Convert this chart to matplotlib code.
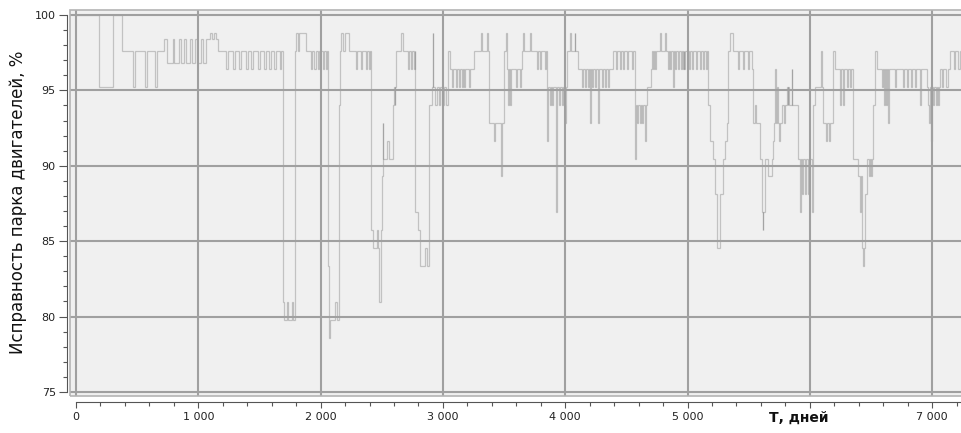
import numpy as np
import matplotlib
matplotlib.use("Agg")
import matplotlib.pyplot as plt
from matplotlib.collections import LineCollection
from matplotlib.patches import Rectangle
from matplotlib.ticker import MultipleLocator, FuncFormatter

# fleet serviceability, % : (day the level starts, level)
era1 = [
    (0, 100.00), (188, 95.24), (302, 100.00), (376, 97.62),
    (470, 95.24), (482, 97.62), (566, 95.24), (578, 97.62), (648, 95.24), (660, 97.62),
    (720, 98.41), (748, 96.83), (790, 98.41), (805, 96.83), (840, 98.41), (855, 96.83),
    (885, 98.41), (900, 96.83), (930, 98.41), (945, 96.83), (975, 98.41), (990, 96.83),
    (1020, 98.41), (1035, 96.83), (1060, 98.41),
    (1096, 98.81), (1110, 98.41), (1125, 98.81), (1145, 98.41), (1165, 97.62),
    (1227, 96.43), (1241, 97.62), (1284, 96.43), (1298, 97.62), (1333, 96.43), (1347, 97.62),
    (1390, 96.43), (1404, 97.62), (1431, 96.43), (1445, 97.62), (1488, 96.43), (1502, 97.62),
    (1537, 96.43), (1551, 97.62), (1578, 96.43), (1592, 97.62), (1619, 96.43), (1633, 97.62),
    (1665, 96.43), (1676, 97.62),
    (1690, 80.95), (1700, 79.76), (1725, 80.95), (1735, 79.76), (1765, 80.95), (1778, 79.76),
    (1792, 97.62), (1800, 98.81), (1815, 97.62), (1825, 98.81), (1878, 97.62),
    (1922, 96.43), (1932, 97.62), (1949, 96.43), (1959, 97.62), (1977, 96.43), (1987, 97.62),
    (2017, 96.43), (2027, 97.62), (2044, 96.43), (2052, 97.62),
]

era2 = [
    (2060, 83.33), (2068, 78.57), (2078, 79.76), (2120, 80.95), (2135, 79.76), (2150, 94.05),
    (2160, 97.62), (2170, 98.81), (2185, 97.62), (2200, 98.81), (2232, 97.62),
    (2290, 96.43), (2300, 97.62), (2330, 96.43), (2340, 97.62), (2371, 96.43), (2381, 97.62),
    (2398, 96.43), (2406, 97.62),
    (2412, 85.71), (2430, 84.52), (2460, 85.71), (2470, 84.52), (2480, 80.95), (2492, 85.71),
    (2500, 89.29), (2508, 92.86), (2514, 90.48), (2540, 91.67), (2560, 90.48),
    (2592, 94.05), (2600, 95.24), (2606, 94.05), (2612, 95.24), (2620, 97.62),
    (2660, 98.81), (2672, 97.62),
    (2712, 96.43), (2722, 97.62), (2736, 96.43), (2746, 97.62), (2760, 96.43), (2768, 97.62),
    (2775, 86.90), (2800, 85.71), (2812, 83.33), (2855, 84.52), (2868, 83.33),
    (2887, 94.05), (2910, 95.24), (2915, 98.81), (2922, 95.24), (2935, 94.05), (2950, 95.24),
    (2965, 94.05), (2980, 95.24), (2995, 94.05), (3010, 95.24), (3025, 94.05),
    (3040, 97.62), (3055, 96.43),
    (3075, 95.24), (3083, 96.43), (3107, 95.24), (3115, 96.43), (3135, 95.24), (3143, 96.43),
    (3156, 95.24), (3164, 96.43), (3175, 95.24), (3183, 96.43), (3211, 95.24), (3219, 96.43),
    (3257, 97.62), (3312, 98.81), (3318, 97.62), (3361, 98.81), (3367, 97.62),
    (3380, 92.86), (3420, 91.67), (3428, 92.86), (3475, 89.29), (3481, 92.86),
    (3502, 97.62), (3516, 98.81), (3524, 97.62),
    (3528, 96.43), (3535, 94.05), (3541, 96.43), (3547, 94.05), (3554, 96.43),
    (3600, 95.24), (3608, 96.43), (3628, 95.24), (3636, 96.43),
    (3644, 97.62), (3658, 98.81), (3666, 97.62), (3712, 98.81), (3720, 97.62),
    (3767, 96.43), (3775, 97.62), (3794, 96.43), (3802, 97.62), (3835, 96.43), (3843, 97.62),
    (3849, 91.67), (3856, 95.24), (3872, 94.05), (3880, 95.24), (3895, 94.05), (3902, 95.24),
    (3928, 86.90), (3934, 95.24), (3950, 94.05), (3958, 95.24), (3972, 94.05), (3980, 95.24),
    (3992, 94.05),
]

era3 = [
    (4000, 92.86), (4008, 95.24),
    (4012, 97.62), (4036, 98.81), (4044, 97.62), (4076, 98.81), (4084, 97.62),
    (4107, 96.43),
    (4135, 95.24), (4143, 96.43), (4162, 95.24), (4170, 96.43), (4189, 95.24), (4197, 96.43),
    (4203, 92.86), (4209, 96.43), (4217, 95.24), (4225, 96.43), (4244, 95.24), (4252, 96.43),
    (4271, 92.86), (4277, 96.43), (4298, 95.24), (4306, 96.43), (4325, 95.24), (4333, 96.43),
    (4352, 95.24), (4360, 96.43),
    (4392, 97.62), (4416, 96.43), (4424, 97.62), (4445, 96.43), (4453, 97.62), (4473, 96.43),
    (4481, 97.62), (4506, 96.43), (4514, 97.62), (4546, 96.43), (4554, 97.62),
    (4571, 90.48), (4578, 94.05), (4590, 92.86), (4598, 94.05), (4610, 92.86), (4618, 94.05),
    (4630, 92.86), (4640, 94.05), (4650, 91.67), (4658, 94.05),
    (4670, 95.24), (4705, 96.43), (4712, 97.62), (4720, 96.43), (4728, 97.62), (4736, 96.43),
    (4744, 97.62), (4775, 98.81), (4783, 97.62), (4816, 98.81), (4824, 97.62),
    (4840, 96.43), (4848, 97.62), (4855, 96.43), (4863, 97.62), (4880, 95.24), (4888, 97.62),
    (4900, 96.43), (4908, 97.62), (4925, 96.43), (4933, 97.62), (4945, 96.43), (4953, 97.62),
    (4960, 96.43), (4968, 97.62), (4975, 96.43), (4983, 97.62), (5010, 96.43), (5018, 97.62),
    (5040, 96.43), (5048, 97.62), (5070, 96.43), (5078, 97.62), (5100, 96.43), (5108, 97.62),
    (5130, 96.43), (5138, 97.62), (5155, 96.43), (5163, 97.62),
    (5171, 94.05), (5184, 91.67), (5211, 90.48), (5225, 88.10), (5239, 84.52), (5266, 88.10),
    (5293, 90.48), (5307, 91.67), (5321, 92.86), (5334, 97.62), (5348, 98.81), (5375, 97.62),
    (5416, 96.43), (5424, 97.62), (5457, 96.43), (5465, 97.62), (5497, 96.43), (5505, 97.62),
    (5525, 96.43), (5535, 92.86), (5552, 94.05), (5562, 92.86),
    (5593, 90.48), (5607, 86.90), (5615, 85.71), (5621, 86.90), (5634, 90.48), (5660, 89.29),
    (5690, 90.48), (5697, 91.67), (5708, 92.86), (5716, 96.43), (5722, 92.86), (5730, 95.24),
    (5736, 92.86), (5751, 91.67), (5757, 92.86),
    (5770, 94.05), (5790, 92.86), (5800, 94.05), (5811, 95.24), (5818, 94.05), (5825, 95.24),
    (5832, 94.05), (5852, 96.43), (5858, 94.05),
    (5906, 90.48), (5920, 86.90), (5926, 90.48), (5935, 88.10), (5945, 90.48), (5960, 88.10),
    (5970, 90.48), (5985, 88.10), (5995, 90.48),
]

era4 = [
    (6016, 86.90), (6024, 90.48),
    (6029, 94.05), (6040, 95.24), (6095, 97.62), (6101, 95.24),
    (6111, 92.86), (6133, 91.67), (6141, 92.86), (6160, 91.67), (6168, 92.86),
    (6193, 97.62), (6205, 96.43), (6247, 94.05), (6255, 96.43), (6275, 94.05), (6283, 96.43),
    (6302, 95.24), (6310, 96.43), (6330, 95.24), (6338, 96.43),
    (6356, 90.48), (6397, 89.29), (6411, 86.90), (6417, 89.29), (6425, 84.52), (6438, 83.33),
    (6444, 84.52), (6452, 88.10), (6465, 90.48), (6480, 89.29), (6490, 90.48), (6500, 89.29),
    (6508, 90.48),
    (6520, 94.05), (6533, 97.62), (6547, 96.43),
    (6590, 95.24), (6600, 96.43), (6608, 94.05), (6616, 96.43), (6625, 94.05), (6633, 96.43),
    (6642, 92.86), (6648, 96.43), (6697, 95.24), (6707, 96.43),
    (6762, 95.24), (6770, 96.43), (6795, 95.24), (6803, 96.43), (6828, 95.24), (6836, 96.43),
    (6860, 95.24), (6868, 96.43),
    (6902, 94.05), (6912, 96.43), (6955, 95.24), (6965, 94.05), (6975, 92.86), (6983, 95.24),
    (6992, 91.67), (7000, 95.24),
    (7010, 94.05), (7018, 95.24), (7028, 94.05), (7036, 95.24), (7048, 94.05), (7056, 95.24),
    (7065, 96.43), (7080, 95.24), (7088, 96.43), (7110, 95.24), (7130, 96.43), (7150, 97.62),
    (7175, 96.43), (7190, 97.62), (7215, 96.43), (7230, 97.62),
]

t_end = 7277

steps = era1 + era2 + era3 + era4
t = np.array([s[0] for s in steps], dtype=float)
v = np.array([s[1] for s in steps], dtype=float)
t_next = np.append(t[1:], t_end)

# every horizontal and vertical piece is its own segment so that
# dense switching gets darker where the pieces overlap
segs = []
for i in range(len(t)):
    segs.append([(t[i], v[i]), (t_next[i], v[i])])
    if i + 1 < len(t):
        segs.append([(t_next[i], v[i]), (t_next[i], v[i + 1])])


def day_label(x, pos):
    # the 6 000 label gives way to the axis title
    if int(x) == 6000:
        return ""
    return f"{int(x):,}".replace(",", " ")


fig = plt.figure(figsize=(9.61, 4.33), dpi=100)
ax = fig.add_axes([70 / 961, 1 - 396 / 433, 896 / 961, 386 / 433])
ax.set_facecolor("#f0f0f0")
ax.set_xlim(-49, t_end)
ax.set_ylim(74.73, 100.33)

lc = LineCollection(segs, colors="#6e6e6e", linewidths=0.9, alpha=0.35, zorder=2)
ax.add_collection(lc)

ax.xaxis.set_major_locator(MultipleLocator(1000))
ax.xaxis.set_minor_locator(MultipleLocator(200))
ax.yaxis.set_major_locator(MultipleLocator(5))
ax.yaxis.set_minor_locator(MultipleLocator(1))
ax.xaxis.set_major_formatter(FuncFormatter(day_label))
ax.yaxis.set_major_formatter(FuncFormatter(lambda y, p: f"{int(y)}"))

ax.set_axisbelow(False)
ax.grid(which="major", color="#a0a0a0", linewidth=1.5, zorder=2.5)

# plot frame
ax.add_patch(Rectangle((0, 0), 1, 1, transform=ax.transAxes, fill=False,
                       ec="#b4b4b4", lw=1.2, clip_on=False, zorder=3))

for s in ["top", "right"]:
    ax.spines[s].set_visible(False)
ax.spines["left"].set_position(("outward", 2.2))
ax.spines["left"].set_bounds(75, 100)
ax.spines["bottom"].set_position(("outward", 4.3))
ax.spines["bottom"].set_bounds(0, t_end)
for s in ["left", "bottom"]:
    ax.spines[s].set_color("#555555")
    ax.spines[s].set_linewidth(0.8)

ax.tick_params(axis="y", which="major", length=6, width=0.8, color="#555555",
               labelsize=8, labelcolor="#222222", pad=2)
ax.tick_params(axis="y", which="minor", length=3, width=0.8, color="#555555")
ax.tick_params(axis="x", which="major", length=4.5, width=0.8, color="#555555",
               labelsize=8, labelcolor="#222222", pad=3)
ax.tick_params(axis="x", which="minor", length=3, width=0.8, color="#555555")

fig.text(18 / 961, 1 - 202 / 433, "Исправность парка двигателей, %", rotation=90,
         ha="center", va="center", fontsize=12, color="#111111")
fig.text(799 / 961, 1 - 418 / 433, "Т, дней", ha="center", va="center",
         fontsize=10, fontweight="bold", color="#111111")

fig.savefig("out.png", dpi=100)
